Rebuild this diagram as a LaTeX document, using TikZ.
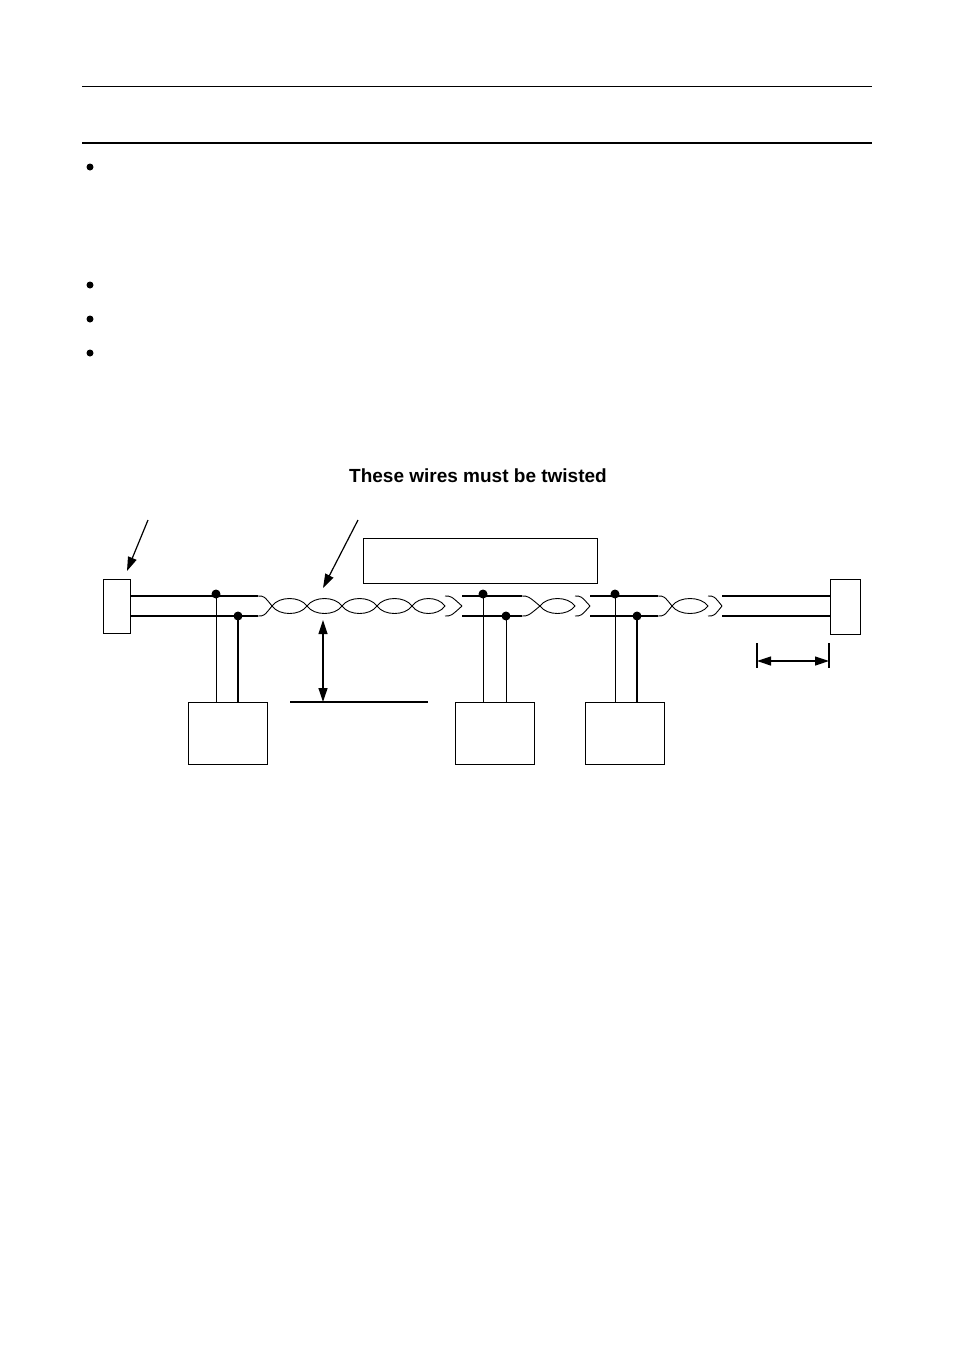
\documentclass[tikz,border=0pt]{standalone}
\usepackage{fontspec}
\setmainfont{Liberation Sans}
\usetikzlibrary{arrows.meta}
\tikzset{
  wire/.style={line width=1.2pt},
  dot/.style={circle,fill=black,inner sep=0pt,minimum size=9pt},
  unitbox/.style={draw,line width=1pt,minimum width=79pt,minimum height=62pt,anchor=north west},
  pointer/.style={line width=1.2pt,-{Triangle[length=14pt,width=9pt]}}
}
\begin{document}
\begin{tikzpicture}[x=1pt,y=-1pt]
  \useasboundingbox (0,0) rectangle (954,1350);

  % Page rules and bullets
  \draw[line width=0.8pt] (82,86) -- (872,86);
  \draw[line width=1.6pt] (82,143) -- (872,143);
  \foreach \by in {167,285,319,353}
    \fill (90,\by) circle (3.5pt);

  % Title
  \node (title) at (478,476) {\fontsize{19}{22}\selectfont\bfseries These wires must be twisted};

  % Terminators and label box
  \node[draw,line width=1pt,minimum width=27pt,minimum height=54pt,anchor=north west,inner sep=0pt] (tl) at (103,579) {};
  \node[draw,line width=1pt,minimum width=30pt,minimum height=55pt,anchor=north west,inner sep=0pt] (tr) at (830,579) {};
  \node[draw,line width=1pt,minimum width=234pt,minimum height=45pt,anchor=north west,inner sep=0pt] (lbl) at (363,538) {};

  % Straight wire pieces
  \draw[wire] (130,596) -- (258,596) (130,616) -- (258,616);
  \draw[wire] (462,596) -- (522,596) (462,616) -- (522,616);
  \draw[wire] (590,596) -- (658,596) (590,616) -- (658,616);
  \draw[wire] (722,596) -- (830,596) (722,616) -- (830,616);

  % Twisted pieces
  \foreach \s/\c/\e in {258/272/x,590/604/x}{}
  \foreach \a/\b in {258/272,445/462,522/540,575/590,658/672,708/722}
    \draw[line width=0.9pt] (\a,596) .. controls (\a+6,596) .. (\b,606) .. controls (\b-0,606) .. (\b,606)
      (\a,616) .. controls (\a+6,616) .. (\b,606);
  \foreach \a/\b in {258/272,445/462,522/540,575/590,658/672,708/722}{}
  \foreach \a/\b in {272/307,307/342,342/377,377/412,412/445,540/575,672/708}
    \draw[line width=0.9pt] (\a,606) .. controls (\a+7,596) and (\b-7,596) .. (\b,606)
      .. controls (\b-7,616) and (\a+7,616) .. cycle;

  % Taps
  \node[dot] (d1) at (216,594) {};
  \node[dot] (d2) at (238,616) {};
  \node[dot] (d3) at (483,594) {};
  \node[dot] (d4) at (506,616) {};
  \node[dot] (d5) at (615,594) {};
  \node[dot] (d6) at (637,616) {};
  \node[unitbox] (u1) at (188,702) {};
  \node[unitbox] (u2) at (455,702) {};
  \node[unitbox] (u3) at (585,702) {};
  \draw[line width=1pt] (d1.center) -- (d1.center |- u1.north);
  \draw[line width=2pt] (d2.center) -- (d2.center |- u1.north);
  \draw[line width=1pt] (d3.center) -- (d3.center |- u2.north);
  \draw[line width=1pt] (d4.center) -- (d4.center |- u2.north);
  \draw[line width=1pt] (d5.center) -- (d5.center |- u3.north);
  \draw[line width=2pt] (d6.center) -- (d6.center |- u3.north);

  % Pointers
  \coordinate (p1) at (148,520);
  \coordinate (p2) at (358,520);
  \draw[pointer] (p1) -- (127,571);
  \draw[pointer] (p2) -- (323,588);

  % Distance marks
  \coordinate (gtop) at (323,620);
  \coordinate (gbot) at (323,702);
  \draw[line width=1.2pt] (290,702) -- (428,702);
  \draw[line width=1.2pt,{Triangle[length=14pt,width=9pt]}-{Triangle[length=14pt,width=9pt]}] (gtop) -- (gbot);
  \draw[line width=1.2pt] (757,643) -- (757,668) (829,643) -- (829,668);
  \draw[line width=1.2pt,{Triangle[length=14pt,width=9pt]}-{Triangle[length=14pt,width=9pt]}] (757,661) -- (829,661);
\end{tikzpicture}
\end{document}
